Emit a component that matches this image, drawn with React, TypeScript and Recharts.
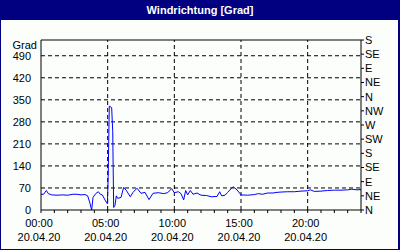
import React from 'react';
import {
  LineChart,
  Line,
  XAxis,
  YAxis,
  CartesianGrid,
  ReferenceLine,
} from 'recharts';

// time of day in hours, wind direction in degrees
const hours = [
  0, 0.2, 0.4, 0.55, 0.8, 1.2, 1.6, 2.0, 2.4, 2.7, 3.0, 3.3, 3.5, 3.65, 3.8, 3.9, 4.1, 4.3,
  4.45, 4.6, 4.8, 4.98, 5.04, 5.12, 5.3, 5.38, 5.45, 5.55, 5.65, 5.75, 6.0, 6.2, 6.4, 6.7,
  6.9, 7.2, 7.5, 7.8, 8.1, 8.4, 8.8, 9.2, 9.5, 9.8, 10.0, 10.3, 10.5, 10.7, 10.85, 11.0,
  11.2, 11.4, 11.7, 12.0, 12.4, 12.8, 13.2, 13.4, 13.55, 13.8, 14.0, 14.4, 14.7, 15.0,
  15.5, 16.0, 16.3, 16.6, 17.0, 17.4, 17.7, 18.0, 18.5, 19.0, 19.5, 20.0, 20.2, 20.5,
  21.0, 21.5, 22.0, 22.5, 23.0, 23.3, 23.7, 24.0,
];
const direction = [
  50, 50, 62, 52, 48, 47, 48, 47, 50, 50, 48, 49, 45, 25, 0, 40, 52, 58,
  50, 48, 32, 20, 106, 330, 325, 250, 8, 15, 45, 37, 40, 72, 62, 42,
  56, 69, 53, 56, 33, 53, 55, 52, 55, 68, 55, 58, 52, 32, 62, 48,
  62, 50, 54, 47, 46, 42, 43, 58, 45, 47, 56, 74, 64, 48,
  47, 49, 52, 50, 54, 54, 56, 57, 58, 58, 60, 61, 64, 59,
  60, 62, 63, 63, 64, 66, 64, 65,
];

const degreeTicks = [0, 70, 140, 210, 280, 350, 420, 490];
const compassTicks = [0, 45, 90, 135, 180, 225, 270, 315, 360, 405, 450, 495, 540];
const compassNames = ['N', 'NE', 'E', 'SE', 'S', 'SW', 'W', 'NW', 'N', 'NE', 'E', 'SE', 'S'];
const hourTicks = Array.from({ length: 25 }, (_, i) => i);
const labelHours = [0, 5, 10, 15, 20];
const dateLabel = '20.04.20';

const data = hours.map((t, i) => ({ t, dir: direction[i] }));

const FONT = '"Liberation Sans", Arial, sans-serif';

function TimeTick(props: any) {
  const { x, y, payload } = props;
  const h = payload.value as number;
  if (!labelHours.includes(h)) return null;
  const label = `${String(h).padStart(2, '0')}:00`;
  return (
    <g>
      <text x={x - 2} y={y + 12} textAnchor="middle" fontSize={11} fontFamily={FONT} fill="#000">
        {label}
      </text>
      <text x={x - 2} y={y + 26} textAnchor="middle" fontSize={11} fontFamily={FONT} fill="#000">
        {dateLabel}
      </text>
    </g>
  );
}

export default function App() {
  return (
    <div
      style={{
        position: 'absolute',
        left: 0,
        top: 0,
        width: 400,
        height: 250,
        background: '#000080',
        fontFamily: FONT,
      }}
    >
      <div
        style={{
          position: 'absolute',
          left: 0,
          top: 0,
          width: 400,
          height: 20,
          color: '#fff',
          fontWeight: 'bold',
          fontSize: 11,
          lineHeight: '20px',
          textAlign: 'center',
        }}
      >
        Windrichtung [Grad]
      </div>
      <div
        style={{
          position: 'absolute',
          left: 1,
          top: 20,
          width: 397,
          height: 229,
          background: '#fbfefb',
        }}
      />
      <div
        style={{
          position: 'absolute',
          left: 0,
          top: 39,
          width: 37,
          textAlign: 'right',
          fontSize: 11,
          color: '#000',
        }}
      >
        Grad
      </div>
      <div style={{ position: 'absolute', left: 0, top: 0 }}>
        <LineChart
          width={400}
          height={250}
          data={data}
          margin={{ top: 40, right: 0, bottom: 0, left: 0 }}
        >
          <CartesianGrid
            vertical={false}
            stroke="#000"
            strokeDasharray="4 3"
            horizontalValues={degreeTicks.filter((v) => v > 0)}
          />
          {[5, 10, 15, 20].map((h) => (
            <ReferenceLine key={h} x={h} stroke="#000" strokeDasharray="4 3" />
          ))}
          <ReferenceLine y={540} stroke="#000" />
          <XAxis
            dataKey="t"
            type="number"
            domain={[0, 24]}
            ticks={hourTicks}
            interval={0}
            height={40}
            axisLine={{ stroke: '#000' }}
            tickLine={{ stroke: '#000' }}
            tickSize={3}
            tick={<TimeTick />}
          />
          <YAxis
            domain={[0, 540]}
            ticks={degreeTicks}
            interval={0}
            width={41}
            axisLine={{ stroke: '#000' }}
            tickLine={false}
            tickMargin={4}
            tick={{ fill: '#000', fontSize: 11, fontFamily: FONT }}
          />
          <YAxis
            yAxisId="dir"
            orientation="right"
            domain={[0, 540]}
            ticks={compassTicks}
            interval={0}
            width={39}
            axisLine={{ stroke: '#000' }}
            tickLine={{ stroke: '#000' }}
            tickSize={3}
            tickMargin={1}
            tickFormatter={(v: number) => compassNames[compassTicks.indexOf(v)]}
            tick={{ fill: '#000', fontSize: 11, fontFamily: FONT }}
          />
          <Line
            dataKey="dir"
            type="linear"
            stroke="#0000ff"
            strokeWidth={1}
            dot={false}
            isAnimationActive={false}
          />
          <Line
            yAxisId="dir"
            dataKey="dir"
            type="linear"
            stroke="none"
            dot={false}
            activeDot={false}
            legendType="none"
            isAnimationActive={false}
          />
        </LineChart>
      </div>
    </div>
  );
}
